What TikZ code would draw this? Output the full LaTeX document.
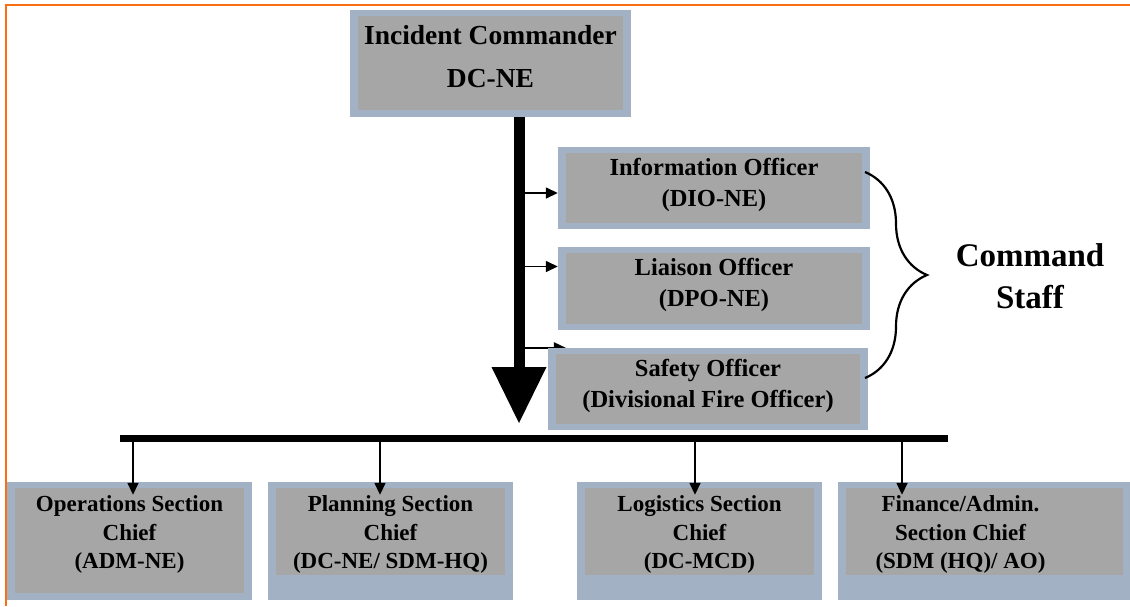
\documentclass[tikz,border=0pt]{standalone}
\usepackage{fontspec}
\setmainfont{Liberation Serif}
\usetikzlibrary{arrows.meta}
\usetikzlibrary{backgrounds}
\usetikzlibrary{decorations.pathreplacing}
\definecolor{frameorange}{RGB}{250,110,20}
\definecolor{boxblue}{RGB}{162,177,195}
\definecolor{boxgray}{RGB}{166,166,166}

\begin{document}
\begin{tikzpicture}[x=1pt, y=-1pt,
    card/.style={fill=boxblue, inner sep=0pt, align=center,
      path picture={\fill[boxgray] ([shift={(8pt,-6pt)}]path picture bounding box.north west)
        rectangle ([shift={(-8pt,#1)}]path picture bounding box.south east);}},
    icbox/.style={card=7pt, minimum width=281pt, minimum height=107pt, text depth=15pt,
      font=\bfseries\fontsize{27.5}{43}\selectfont},
    offbox/.style={card=6pt, minimum height=82pt, text depth=12pt,
      font=\bfseries\fontsize{24.5}{31}\selectfont},
    secbox/.style={card=25pt, minimum width=245pt, minimum height=118pt, text depth=17pt,
      font=\bfseries\fontsize{23}{28.5}\selectfont},
    tiparrow/.style={-{Triangle[length=12pt,width=11pt]}, line width=1.5pt}]
      \useasboundingbox (0,0) rectangle (1130,606);
      \draw [frameorange, line width=2pt] (6,606) -- (6,5) -- (1130,5);

      \node [icbox] (ic) at (490.5,63.5) {Incident Commander\\DC-NE};

      \node [offbox, minimum width=312pt] (info) at (714,188) {Information Officer\\(DIO-NE)};
      \node [offbox, minimum width=312pt, minimum height=83pt] (liaison) at (714,288.5) {Liaison Officer\\(DPO-NE)};
      \node [offbox, minimum width=320pt] (safe) at (708,389) {Safety Officer\\(Divisional Fire Officer)};

      \node [secbox, card=7pt] (ops) at (129.5,541) {Operations Section\\Chief\\(ADM-NE)};
      \node [secbox] (plan) at (390.5,541) {Planning Section\\Chief\\(DC-NE/ SDM-HQ)};
      \node [secbox] (log) at (699.5,541) {Logistics Section\\Chief\\(DC-MCD)};
      \node [secbox] (fin) at (960.5,541) {Finance/Admin.\\Section Chief\\(SDM (HQ)/ AO)};
      \fill [boxblue] ([xshift=-8pt]fin.north east) rectangle (1130,600);
      \fill [boxgray] ([shift={(-8pt,-6pt)}]fin.north east) rectangle (1123,575);

      \node [font=\bfseries\fontsize{33}{42}\selectfont, align=center] (staff) at (1030,276) {Command\\Staff};

      \coordinate (trunkend) at (519,423);
      \draw [line width=11pt, -{Triangle[length=56pt,width=55pt,line width=0pt]}] (ic.south -| trunkend) -- (trunkend);

      \draw [tiparrow] ([yshift=-5pt]info.west -| trunkend) -- ([yshift=-5pt]info.west);
      \draw [tiparrow] ([yshift=22pt]liaison.west -| trunkend) -- ([yshift=22pt]liaison.west);
      \begin{scope}[on background layer]
        \draw [tiparrow] (trunkend |- safe.north) -- ([xshift=18pt]safe.north west);
      \end{scope}

      \coordinate (brtop) at (865,172);
      \coordinate (brbot) at (865,378);
      \draw [line width=2.2pt, decorate, decoration={brace, amplitude=62pt}] (brtop) -- (brbot);

      \coordinate (barL) at (120,438);
      \coordinate (barR) at (948,438);
      \draw [line width=7pt] (barL) -- (barR);

      \foreach \n/\x in {ops/133, plan/380, log/695, fin/902} {
        \coordinate (drop\n) at (\x,438);
        \draw [tiparrow, shorten >=-13pt] (drop\n) -- (drop\n |- \n.north);
      }
    \end{tikzpicture}
\end{document}
